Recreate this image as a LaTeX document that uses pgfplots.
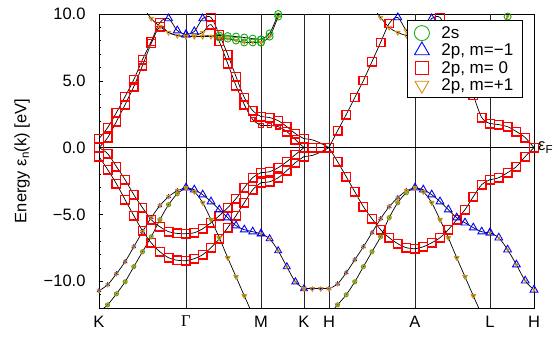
\documentclass[border=0pt]{standalone}
\usepackage{pgfplots}
\pgfplotsset{compat=1.18}
\usepackage{pgfplotstable}
\usepackage{fontspec}
\setmainfont{Liberation Sans}
\newfontfamily\serifG{Liberation Serif}

\definecolor{sgreen}{RGB}{20,170,20}
\definecolor{pblue}{RGB}{0,0,255}
\definecolor{pred}{RGB}{255,0,0}
\definecolor{porange}{RGB}{215,140,20}

\newcommand\fs{\fontsize{16.5}{19.8}\selectfont}
\newcommand\fl{\fontsize{17}{20}\selectfont}

% k-path length (K-Gamma-M-K-H-A-L-H), energies in eV
% ---- K -> Gamma
\pgfplotstableread{
x y
0 0
8.7 -0.45
17.4 -1.42
26.1 -2.40
34.8 -3.52
43.5 -4.49
52.2 -5.39
60.9 -5.92
69.6 -6.29
78.3 -6.42
87 -6.44
}\KGpvA
\pgfplotstableread{
x y
0 -0.67
8.7 -1.65
17.4 -2.70
26.1 -3.90
34.8 -5.09
43.5 -6.22
52.2 -7.12
60.9 -7.79
69.6 -8.24
78.3 -8.43
87 -8.46
}\KGpvB
\pgfplotstableread{
x y
0 0
8.7 0.75
17.4 1.95
26.1 3.22
34.8 4.57
43.5 6.14
52.2 7.79
60.9 9.06
69.6 8.61
78.3 8.39
87 8.31
}\KGpcA
\pgfplotstableread{
x y
0 0.67
8.7 1.50
17.4 2.62
26.1 3.82
34.8 5.09
43.5 6.59
52.2 7.94
60.9 9.36
69.6 9.66
78.3 8.76
87 8.46
}\KGpcB
\pgfplotstableread{
x y
34.8 11.6
43.5 10.6
52.2 9.66
60.9 9.06
69.6 8.61
78.3 8.39
87 8.31
}\KGsx
\pgfplotstableread{
x y
0 -10.71
8.7 -10.26
17.4 -9.44
26.1 -8.54
34.8 -7.42
43.5 -6.29
52.2 -5.24
60.9 -4.34
69.6 -3.67
78.3 -3.22
87 -3.00
}\KGsA
\pgfplotstableread{
x y
0 -12.3
8.7 -11.76
17.4 -10.94
26.1 -10.04
34.8 -8.91
43.5 -7.79
52.2 -6.67
60.9 -5.39
69.6 -4.27
78.3 -3.45
87 -3.00
}\KGsB
% ---- Gamma -> M
\pgfplotstableread{
x y
87 -6.44
95.3 -6.37
103.7 -6.07
112 -5.62
120.3 -5.09
128.7 -4.49
137 -3.82
145.3 -3.00
153.7 -2.25
162 -1.87
}\GMpvA
\pgfplotstableread{
x y
87 -8.46
95.3 -8.31
103.7 -8.01
112 -7.49
120.3 -6.82
128.7 -5.99
137 -5.09
145.3 -4.12
153.7 -3.15
162 -2.62
}\GMpvB
\pgfplotstableread{
x y
87 8.46
95.3 8.69
103.7 9.66
112 9.74
120.3 8.46
128.7 6.97
137 5.32
145.3 3.75
153.7 2.77
162 2.32
}\GMuA
\pgfplotstableread{
x y
87 8.31
95.3 8.39
103.7 8.61
112 9.21
120.3 7.94
128.7 6.29
137 4.64
145.3 3.22
153.7 2.10
162 1.65
}\GMuB
\pgfplotstableread{
x y
87 8.31
95.3 8.31
103.7 8.31
112 8.31
120.3 8.24
128.7 8.16
137 8.01
145.3 7.87
153.7 7.87
162 7.87
}\GMfA
\pgfplotstableread{
x y
87 8.31
95.3 8.31
103.7 8.35
112 8.39
120.3 8.39
128.7 8.35
137 8.31
145.3 8.24
153.7 8.16
162 8.09
}\GMfB
\pgfplotstableread{
x y
87 -3.00
95.3 -3.15
103.7 -3.52
112 -4.04
120.3 -4.64
128.7 -5.24
137 -5.84
145.3 -6.14
153.7 -6.29
162 -6.44
}\GMsA
\pgfplotstableread{
x y
87 -3.00
95.3 -3.30
103.7 -4.12
112 -5.39
120.3 -6.74
128.7 -8.24
137 -9.66
145.3 -11.09
153.7 -12.5
}\GMsB
% ---- M -> K
\pgfplotstableread{
x y
162 -1.87
170.6 -1.80
179.2 -1.50
187.8 -1.05
196.4 -0.52
205 0
}\MKpvA
\pgfplotstableread{
x y
162 -2.62
170.6 -2.55
179.2 -2.25
187.8 -1.72
196.4 -1.12
205 -0.67
}\MKpvB
\pgfplotstableread{
x y
162 2.32
170.6 2.25
179.2 2.02
187.8 1.57
196.4 1.05
205 0.67
}\MKpcA
\pgfplotstableread{
x y
162 1.65
170.6 1.65
179.2 1.57
187.8 1.20
196.4 0.60
205 0
}\MKpcB
\pgfplotstableread{
x y
162 7.87
170.6 8.31
179.2 9.81
187.8 11.5
}\MKfA
\pgfplotstableread{
x y
162 8.09
170.6 8.55
179.2 10.0
187.8 11.7
}\MKfB
\pgfplotstableread{
x y
162 -6.44
170.6 -6.82
179.2 -7.72
187.8 -8.91
196.4 -10.04
205 -10.56
}\MKs
% ---- K -> H
\pgfplotstableread{
x y
205 0
213.3 0
221.7 0
230 0
}\KHa
\pgfplotstableread{
x y
205 0.67
213.3 0.58
221.7 0.33
230 0
}\KHb
\pgfplotstableread{
x y
205 -0.67
213.3 -0.58
221.7 -0.33
230 0
}\KHc
\pgfplotstableread{
x y
205 -10.56
213.3 -10.56
221.7 -10.56
230 -10.56
}\KHs
% ---- H -> A
\pgfplotstableread{
x y
230 0
238.6 -1.05
247.2 -2.17
255.8 -3.30
264.4 -4.42
273 -5.32
281.6 -6.14
290.2 -6.74
298.8 -7.19
307.4 -7.49
316 -7.57
}\HApv
\pgfplotstableread{
x y
230 0
238.6 1.27
247.2 2.47
255.8 3.75
264.4 5.02
273 6.44
281.6 7.87
290.2 9.29
298.8 9.74
307.4 8.76
316 8.46
}\HApc
\pgfplotstableread{
x y
264.4 11.3
273 10.6
281.6 9.74
290.2 8.99
298.8 8.61
307.4 8.39
316 8.31
}\HAsx
\pgfplotstableread{
x y
230 -10.56
238.6 -10.19
247.2 -9.36
255.8 -8.39
264.4 -7.42
273 -6.37
281.6 -5.32
290.2 -4.42
298.8 -3.75
307.4 -3.22
316 -3.00
}\HAsA
\pgfplotstableread{
x y
230 -12.5
238.6 -11.76
247.2 -11.01
255.8 -10.04
264.4 -8.91
273 -7.79
281.6 -6.67
290.2 -5.24
298.8 -4.12
307.4 -3.37
316 -3.00
}\HAsB
% ---- A -> L
\pgfplotstableread{
x y
316 -7.57
324.3 -7.42
332.7 -7.12
341 -6.74
349.3 -6.14
357.7 -5.39
366 -4.64
374.3 -3.67
382.7 -2.77
391 -2.40
}\ALpv
\pgfplotstableread{
x y
316 8.46
324.3 8.69
332.7 9.66
341 9.74
349.3 8.46
357.7 6.97
366 5.39
374.3 3.90
382.7 2.25
391 1.80
}\ALu
\pgfplotstableread{
x y
316 8.31
324.3 8.31
332.7 8.31
341 8.31
349.3 8.24
357.7 8.16
366 8.01
374.3 7.87
382.7 7.87
391 7.87
}\ALf
\pgfplotstableread{
x y
316 -3.00
324.3 -3.15
332.7 -3.52
341 -4.04
349.3 -4.64
357.7 -5.24
366 -5.62
374.3 -5.99
382.7 -6.29
391 -6.37
}\ALsA
\pgfplotstableread{
x y
316 -3.00
324.3 -3.30
332.7 -4.12
341 -5.39
349.3 -6.74
357.7 -8.24
366 -9.66
374.3 -11.09
382.7 -12.5
}\ALsB
% ---- L -> H
\pgfplotstableread{
x y
391 -2.40
399.8 -2.25
408.6 -1.87
417.4 -1.42
426.2 -0.67
435 0
}\LHpv
\pgfplotstableread{
x y
391 1.80
399.8 1.72
408.6 1.57
417.4 1.20
426.2 0.75
435 0
}\LHpc
\pgfplotstableread{
x y
391 7.87
399.8 8.31
408.6 9.81
417.4 11.5
}\LHf
\pgfplotstableread{
x y
391 -6.37
399.8 -6.74
408.6 -7.64
417.4 -8.76
426.2 -9.96
435 -10.64
}\LHs

\pgfplotsset{
  bandline/.style={black, line width=0.7pt, smooth, tension=0.5, mark=none, forget plot},
  mk/.style={only marks, forget plot},
}
\newcommand\bandl[1]{\addplot[bandline] table {#1};}
\newcommand\sqs[3]{\addplot[mk, color=pred, mark=square, mark size=#1, restrict x to domain=#2,
  mark options={draw=pred, fill=none, solid, line width=1.3pt}] table {#3};}
\newcommand\cis[3]{\addplot[mk, color=sgreen, mark=o, mark size=#1, restrict x to domain=#2,
  mark options={draw=sgreen, fill=none, solid, line width=0.9pt}] table {#3};}
\newcommand\tus[3]{\addplot[mk, color=pblue, mark=triangle, mark size=#1, restrict x to domain=#2,
  mark options={draw=pblue, fill=none, solid, line width=0.9pt}] table {#3};}
\newcommand\tds[3]{\addplot[mk, color=porange, mark=triangle, mark size=#1, restrict x to domain=#2,
  mark options={draw=porange, fill=none, solid, rotate=180, line width=0.9pt}] table {#3};}

\begin{document}
\begin{tikzpicture}
\begin{axis}[
  scale only axis, width=435pt, height=294pt,
  xmin=0, xmax=435, ymin=-12, ymax=10,
  axis line style={line width=0.8pt},
  xtick={0,87,162,205,230,316,391,435},
  xticklabels={K,{\serifG Γ},M,K,H,A,L,H},
  xtick style={draw=none},
  xticklabel style={yshift=-4.5pt},
  ytick={-10,-5,0,5,10},
  yticklabels={−10.0,−5.0,0.0,5.0,10.0},
  minor ytick={-12,-11,...,10},
  ytick pos=left, tick align=inside,
  major tick length=4pt, minor tick length=2.5pt,
  ytick style={black, line width=0.6pt},
  yticklabel style={xshift=-10pt},
  tick label style={font=\fs},
  ylabel={Energy ε\textsubscript{n}(k) [eV]},
  every axis y label/.style={at={(axis description cs:-0.177,0.5)}, rotate=90, anchor=center, font=\fs},
  legend style={at={(axis cs:308,9.55)}, anchor=north west, draw=black, fill=white,
    font=\fl, line width=0.8pt, inner xsep=7pt, inner ysep=4pt, row sep=0pt},
  legend cell align=left,
]
% legend symbols
\addlegendimage{only marks, color=sgreen, mark=o, mark size=7.5pt, mark options={draw=sgreen, fill=none, line width=0.9pt}}
\addlegendentry{\hspace{10pt}2s}
\addlegendimage{only marks, color=pblue, mark=triangle, mark size=8.5pt, mark options={draw=pblue, fill=none, line width=0.9pt}}
\addlegendentry{\hspace{10pt}2p, m=−1}
\addlegendimage{only marks, color=pred, mark=square, mark size=6.3pt, mark options={draw=pred, fill=none, line width=0.9pt}}
\addlegendentry{\hspace{10pt}2p, m= 0}
\addlegendimage{only marks, color=porange, mark=triangle, mark size=8pt, mark options={draw=porange, fill=none, rotate=180, line width=0.9pt}}
\addlegendentry{\hspace{10pt}2p, m=+1}

% high-symmetry lines and Fermi level
\pgfplotsinvokeforeach{87,162,205,230,316,391}{
  \draw[black!85, line width=0.7pt] (axis cs:#1,-12) -- (axis cs:#1,10);
}
\draw[black, line width=0.7pt] (axis cs:0,0) -- (axis cs:435,0);
\coordinate (ef) at (axis cs:435,0);

% bands
\bandl{\KGpvA}\bandl{\KGpvB}\bandl{\KGpcA}\bandl{\KGpcB}\bandl{\KGsx}\bandl{\KGsA}\bandl{\KGsB}
\bandl{\GMpvA}\bandl{\GMpvB}\bandl{\GMuA}\bandl{\GMuB}\bandl{\GMfA}\bandl{\GMfB}\bandl{\GMsA}\bandl{\GMsB}
\bandl{\MKpvA}\bandl{\MKpvB}\bandl{\MKpcA}\bandl{\MKpcB}\bandl{\MKfA}\bandl{\MKfB}\bandl{\MKs}
\bandl{\KHa}\bandl{\KHb}\bandl{\KHc}\bandl{\KHs}
\bandl{\HApv}\bandl{\HApc}\bandl{\HAsx}\bandl{\HAsA}\bandl{\HAsB}
\bandl{\ALpv}\bandl{\ALu}\bandl{\ALf}\bandl{\ALsA}\bandl{\ALsB}
\bandl{\LHpv}\bandl{\LHpc}\bandl{\LHf}\bandl{\LHs}

% 2p, m=0 weight
\sqs{4.3pt}{-1:500}{\KGpvA}
\sqs{4.3pt}{-1:500}{\KGpvB}
\sqs{4.3pt}{-1:61}{\KGpcA}
\sqs{4.3pt}{-1:61}{\KGpcB}
\sqs{4.3pt}{-1:500}{\GMpvA}
\sqs{4.3pt}{-1:500}{\GMpvB}
\sqs{4.3pt}{111:163}{\GMuA}
\sqs{4.3pt}{111:146}{\GMuB}
\sqs{2.2pt}{150:163}{\GMuB}
\sqs{4.3pt}{-1:500}{\MKpvA}
\sqs{4.3pt}{-1:500}{\MKpvB}
\sqs{4.3pt}{-1:500}{\MKpcA}
\sqs{2.2pt}{-1:180}{\MKpcB}
\sqs{4.3pt}{185:500}{\MKpcB}
\sqs{4.3pt}{-1:500}{\KHa}
\sqs{4.3pt}{-1:500}{\HApv}
\sqs{4.3pt}{229:291}{\HApc}
\sqs{4.3pt}{-1:500}{\ALpv}
\sqs{4.3pt}{340:392}{\ALu}
\sqs{4.3pt}{-1:500}{\LHpv}
\sqs{4.3pt}{-1:500}{\LHpc}

% 2s weight
\cis{2pt}{-1:500}{\KGsB}
\cis{3.5pt}{119:163}{\GMfA}
\cis{3.5pt}{119:163}{\GMfB}
\cis{1.5pt}{-1:500}{\GMsB}
\cis{3.5pt}{-1:500}{\MKfA}
\cis{3.5pt}{-1:500}{\MKfB}
\cis{2pt}{-1:500}{\HAsB}
\cis{3.5pt}{348:392}{\ALf}
\cis{1.5pt}{-1:500}{\ALsB}
\cis{3.5pt}{-1:500}{\LHf}

% 2p, m=-1 weight
\tus{4.5pt}{69:88}{\KGpcB}
\tus{2pt}{-1:500}{\KGsA}
\tus{4.5pt}{86:104}{\GMuA}
\tus{4.5pt}{-1:500}{\GMsA}
\tus{4pt}{-1:500}{\MKs}
\tus{1.5pt}{-1:500}{\KHs}
\tus{4.5pt}{297:300}{\HApc}
\tus{2pt}{-1:500}{\HAsA}
\tus{4.5pt}{315:334}{\ALu}
\tus{4.5pt}{-1:500}{\ALsA}
\tus{4.5pt}{-1:500}{\LHs}

% 2p, m=+1 weight
\tds{2.5pt}{69:88}{\KGpcA}
\tds{2.5pt}{50:61}{\KGsx}
\tds{2pt}{-1:500}{\KGsA}
\tds{2pt}{-1:500}{\KGsB}
\tds{2.5pt}{86:104}{\GMuB}
\tds{2.5pt}{86:113}{\GMfA}
\tds{1.5pt}{119:163}{\GMfA}
\tds{2.5pt}{-1:500}{\GMsB}
\tds{1.5pt}{-1:500}{\MKs}
\tds{1.5pt}{-1:500}{\MKfA}
\tds{2.5pt}{-1:500}{\KHs}
\tds{2.5pt}{306:317}{\HApc}
\tds{2.5pt}{-1:500}{\HAsx}
\tds{2pt}{-1:500}{\HAsA}
\tds{2pt}{-1:500}{\HAsB}
\tds{2.5pt}{315:342}{\ALf}
\tds{1.5pt}{348:392}{\ALf}
\tds{2.5pt}{-1:500}{\ALsB}
\tds{1.5pt}{-1:500}{\LHs}
\tds{1.5pt}{-1:500}{\LHf}
\end{axis}
\node[anchor=west, inner sep=0pt, font=\fs] at ([xshift=4pt]ef) {ε\textsubscript{F}};
\pgfresetboundingbox
\path[use as bounding box] (-99pt,-31pt) rectangle (461pt,308pt);
\end{tikzpicture}
\end{document}
